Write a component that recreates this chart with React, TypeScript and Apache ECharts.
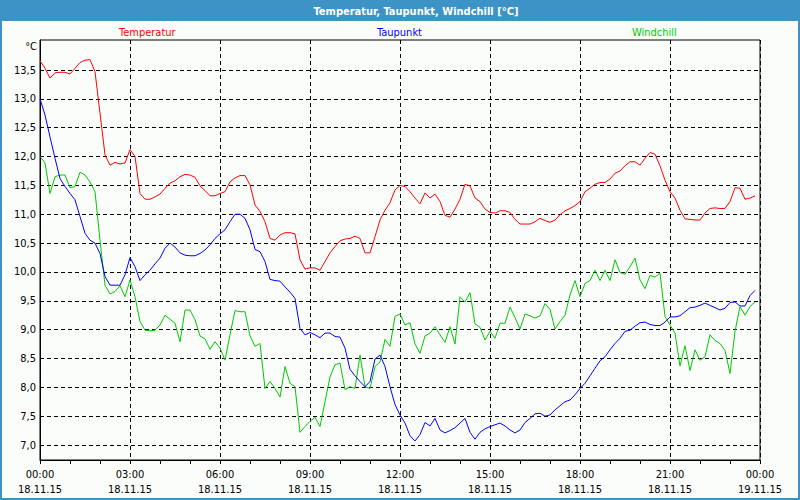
import React, { useEffect, useRef } from "react";
import * as echarts from "echarts";

// 10-minute readings from 18.11.15 00:00 to 23:50
const temperatur = [
  13.66, 13.53, 13.36, 13.45, 13.46, 13.46, 13.43, 13.53, 13.63, 13.67, 13.68, 13.47,
  12.75, 12.03, 11.85, 11.90, 11.87, 11.89, 12.12, 12.00, 11.36, 11.26, 11.26, 11.30,
  11.35, 11.45, 11.54, 11.58, 11.65, 11.69, 11.68, 11.64, 11.49, 11.41, 11.32, 11.32,
  11.36, 11.39, 11.56, 11.63, 11.67, 11.67, 11.51, 11.16, 11.05, 10.87, 10.58, 10.55,
  10.64, 10.68, 10.68, 10.66, 10.21, 10.05, 10.07, 10.07, 10.03, 10.18, 10.33, 10.44,
  10.54, 10.57, 10.58, 10.62, 10.58, 10.33, 10.33, 10.61, 10.90, 11.07, 11.20, 11.42,
  11.50, 11.48, 11.39, 11.28, 11.18, 11.37, 11.28, 11.35, 11.22, 10.98, 10.95, 11.09,
  11.26, 11.52, 11.49, 11.28, 11.22, 11.09, 11.03, 11.02, 11.06, 11.06, 11.03, 10.91,
  10.83, 10.83, 10.83, 10.87, 10.93, 10.89, 10.86, 10.90, 10.99, 11.06, 11.10, 11.15,
  11.22, 11.39, 11.45, 11.52, 11.55, 11.55, 11.61, 11.71, 11.75, 11.84, 11.91, 11.91,
  11.85, 11.97, 12.07, 12.04, 11.84, 11.59, 11.39, 11.28, 11.07, 10.92, 10.91, 10.90,
  10.90, 11.02, 11.10, 11.11, 11.10, 11.10, 11.22, 11.46, 11.45, 11.26, 11.28, 11.32,
];

const taupunkt = [
  13.00, 12.72, 12.34, 11.97, 11.62, 11.48, 11.36, 11.25, 10.96, 10.67, 10.55, 10.50,
  10.32, 9.92, 9.77, 9.77, 9.77, 9.95, 10.25, 10.09, 9.85, 9.95, 10.03, 10.14,
  10.24, 10.41, 10.50, 10.43, 10.33, 10.29, 10.28, 10.28, 10.32, 10.38, 10.47, 10.58,
  10.66, 10.73, 10.87, 11.00, 11.00, 10.93, 10.73, 10.39, 10.35, 10.18, 9.87, 9.85,
  9.84, 9.74, 9.65, 9.54, 9.02, 8.91, 8.95, 8.91, 8.86, 8.94, 8.94, 8.88,
  8.87, 8.68, 8.31, 8.20, 8.10, 8.01, 8.10, 8.49, 8.56, 8.36, 8.01, 7.70,
  7.52, 7.38, 7.16, 7.07, 7.18, 7.39, 7.33, 7.46, 7.26, 7.21, 7.25, 7.30,
  7.38, 7.46, 7.22, 7.10, 7.22, 7.28, 7.32, 7.35, 7.38, 7.33, 7.26, 7.21,
  7.26, 7.39, 7.46, 7.54, 7.55, 7.50, 7.52, 7.61, 7.68, 7.75, 7.78, 7.87,
  7.98, 8.07, 8.20, 8.33, 8.46, 8.53, 8.65, 8.76, 8.85, 8.97, 8.99, 9.06,
  9.12, 9.13, 9.09, 9.07, 9.07, 9.13, 9.22, 9.22, 9.24, 9.31, 9.38, 9.39,
  9.42, 9.46, 9.42, 9.38, 9.34, 9.37, 9.47, 9.48, 9.41, 9.41, 9.59, 9.68,
];

const windchill = [
  12.00, 11.89, 11.36, 11.65, 11.68, 11.68, 11.46, 11.48, 11.73, 11.68, 11.56, 11.39,
  10.55, 9.77, 9.62, 9.66, 9.76, 9.57, 9.86, 9.57, 9.14, 8.99, 8.98, 8.99,
  9.08, 9.25, 9.18, 9.11, 8.79, 9.34, 9.34, 9.17, 8.89, 8.84, 8.66, 8.79,
  8.68, 8.47, 8.91, 9.33, 9.31, 9.31, 8.89, 8.71, 8.76, 7.98, 8.10, 7.98,
  7.83, 8.36, 8.07, 8.01, 7.22, 7.32, 7.41, 7.48, 7.32, 7.75, 8.18, 8.39,
  8.42, 7.96, 8.01, 7.98, 8.56, 8.01, 7.98, 8.36, 8.44, 8.83, 8.71, 9.23,
  9.27, 9.08, 9.12, 8.75, 8.59, 8.89, 8.94, 9.05, 8.91, 8.78, 9.05, 8.75,
  9.57, 9.48, 9.64, 9.10, 9.04, 8.82, 8.97, 8.85, 9.11, 9.11, 9.39, 9.21,
  9.01, 9.27, 9.24, 9.20, 9.24, 9.45, 9.35, 9.01, 9.14, 9.25, 9.60, 9.85,
  9.57, 9.80, 9.85, 10.03, 9.85, 10.03, 9.85, 10.21, 9.99, 9.96, 10.09, 10.24,
  9.86, 9.71, 9.94, 9.91, 9.98, 9.23, 9.08, 8.94, 8.37, 8.72, 8.29, 8.65,
  8.47, 8.53, 8.91, 8.81, 8.76, 8.64, 8.24, 8.97, 9.40, 9.25, 9.40, 9.48,
];

const yTicks = [7.0, 7.5, 8.0, 8.5, 9.0, 9.5, 10.0, 10.5, 11.0, 11.5, 12.0, 12.5, 13.0, 13.5];
const dayLabels = ["18.11.15", "19.11.15"];
const seriesNames = ["Temperatur", "Taupunkt", "Windchill"];
const seriesColors = ["#ff0000", "#0000ff", "#00c800"];

const STEP_HOURS = 1 / 6;
const FONT = "'DejaVu Sans Condensed', 'Liberation Sans', sans-serif";
const BLUE = "#3d93c5";

function toPairs(values: number[]) {
  return values.map((v, i) => [i * STEP_HOURS, v]);
}

export default function App() {
  const ref = useRef<HTMLDivElement>(null);
  useEffect(() => {
    if (!ref.current) return;
    const chart = echarts.init(ref.current, null, { renderer: "svg" });
    const allData = [temperatur, taupunkt, windchill];
    const legendLefts = [114, 372, 627];
    chart.setOption({
      animation: false,
      backgroundColor: "#fbfdfb",
      grid: {
        left: 40,
        right: 40,
        top: 40,
        bottom: 40,
        show: true,
        borderColor: "#000",
        borderWidth: 1,
        backgroundColor: "transparent",
      },
      legend: seriesNames.map((n, k) => ({
        data: [n],
        left: legendLefts[k],
        top: 25,
        padding: 0,
        icon: "none",
        itemWidth: 0,
        itemHeight: 14,
        selectedMode: false,
        textStyle: { color: seriesColors[k], fontSize: 11, fontFamily: FONT },
      })),
      xAxis: {
        type: "value",
        min: 0,
        max: 24,
        interval: 3,
        axisLine: { show: true, lineStyle: { color: "#000", width: 1 } },
        axisTick: { show: true, length: 4, lineStyle: { color: "#000" } },
        minorTick: { show: true, splitNumber: 3, length: 4, lineStyle: { color: "#000" } },
        splitLine: { show: true, lineStyle: { color: "#000", type: [4, 3], width: 1 } },
        axisLabel: {
          margin: 7,
          color: "#000",
          fontSize: 11,
          fontFamily: FONT,
          lineHeight: 15,
          formatter: (v: number) => {
            const h = Math.round(v) % 24;
            const day = v >= 24 ? dayLabels[1] : dayLabels[0];
            return (h < 10 ? "0" : "") + h + ":00\n" + day;
          },
        },
      },
      yAxis: {
        type: "value",
        min: 6.74,
        max: 14.02,
        axisLine: { show: true, lineStyle: { color: "#000", width: 1 } },
        axisTick: { show: false, customValues: yTicks },
        splitLine: { show: true, lineStyle: { color: "#000", type: [4, 3], width: 1 } },
        axisLabel: {
          customValues: yTicks,
          margin: 4,
          color: "#000",
          fontSize: 11,
          fontFamily: FONT,
          formatter: (v: number) => v.toFixed(1).replace(".", ","),
        },
      },
      graphic: [
        {
          type: "rect",
          silent: true,
          shape: { x: 0, y: 0, width: 800, height: 21 },
          style: { fill: BLUE },
        },
        {
          type: "rect",
          silent: true,
          shape: { x: 1, y: 1, width: 798, height: 498 },
          style: { fill: "none", stroke: BLUE, lineWidth: 2 },
        },
        {
          type: "text",
          silent: true,
          x: 416,
          y: 11,
          style: {
            text: "Temperatur, Taupunkt, Windchill [°C]",
            fill: "#fff",
            font: "bold 11px " + FONT,
            align: "center",
            verticalAlign: "middle",
          },
        },
        {
          type: "text",
          silent: true,
          x: 37,
          y: 46,
          style: {
            text: "°C",
            fill: "#000",
            font: "11px " + FONT,
            align: "right",
            verticalAlign: "middle",
          },
        },
      ],
      series: seriesNames.map((n, k) => ({
        name: n,
        type: "line",
        data: toPairs(allData[k]),
        showSymbol: false,
        symbol: "none",
        lineStyle: { color: seriesColors[k], width: 1 },
        itemStyle: { color: seriesColors[k] },
        z: 3 - k,
      })),
    });
    return () => chart.dispose();
  }, []);
  return (
    <div
      ref={ref}
      style={{ position: "fixed", left: 0, top: 0, width: 800, height: 500 }}
    />
  );
}
